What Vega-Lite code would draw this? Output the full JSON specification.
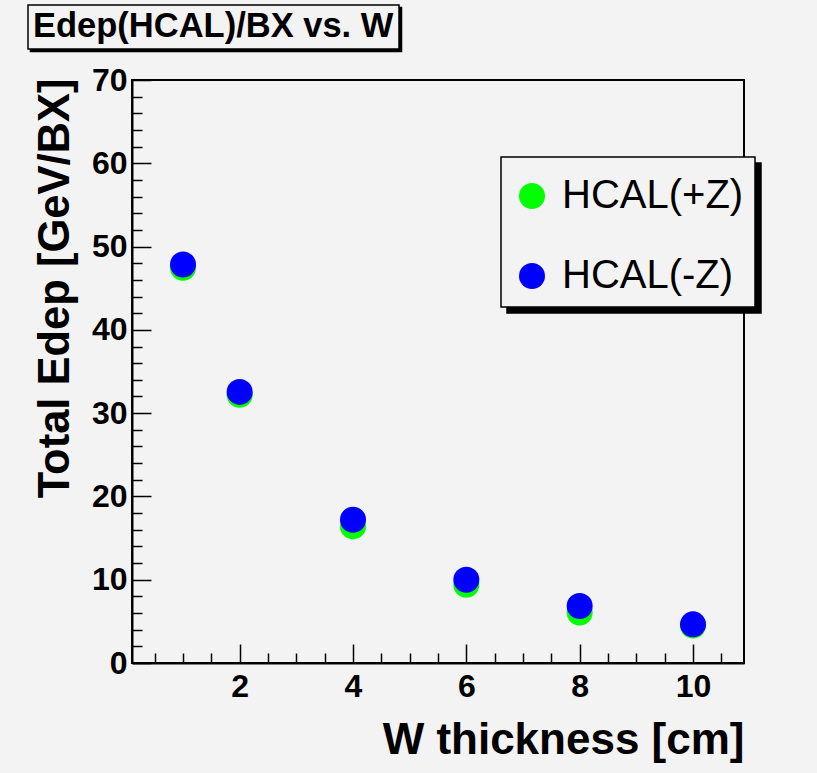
{
  "$schema": "https://vega.github.io/schema/vega-lite/v6.json",
  "autosize": "none",
  "width": 612,
  "height": 583,
  "padding": {"left": 132, "top": 80, "right": 73, "bottom": 110},
  "background": "#f3f3f3",
  "config": {
    "view": {"stroke": "black", "strokeWidth": 2, "fill": "#f3f3f3"},
    "font": "Liberation Sans",
    "legend": {"strokeWidth": 1.5}
  },
  "data": {
    "values": [
      {"w": 1, "series": "HCAL(+Z)", "edep": 47.45},
      {"w": 2, "series": "HCAL(+Z)", "edep": 32.2},
      {"w": 4, "series": "HCAL(+Z)", "edep": 16.4},
      {"w": 6, "series": "HCAL(+Z)", "edep": 9.4},
      {"w": 8, "series": "HCAL(+Z)", "edep": 6.05},
      {"w": 10, "series": "HCAL(+Z)", "edep": 4.5},
      {"w": 1, "series": "HCAL(-Z)", "edep": 47.85},
      {"w": 2, "series": "HCAL(-Z)", "edep": 32.55},
      {"w": 4, "series": "HCAL(-Z)", "edep": 17.2},
      {"w": 6, "series": "HCAL(-Z)", "edep": 10.0},
      {"w": 8, "series": "HCAL(-Z)", "edep": 6.84},
      {"w": 10, "series": "HCAL(-Z)", "edep": 4.64}
    ]
  },
  "layer": [
    {
      "mark": {"type": "point", "filled": true, "opacity": 1, "strokeWidth": 0},
      "encoding": {
        "x": {
          "field": "w", "type": "quantitative",
          "scale": {"domain": [0.1, 10.9], "nice": false, "zero": false},
          "axis": {
            "orient": "bottom", "values": [2, 4, 6, 8, 10], "format": "d",
            "tickSize": -19, "tickWidth": 1.5, "tickColor": "black",
            "domainColor": "black", "domainWidth": 2,
            "labelFont": "Liberation Sans", "labelFontWeight": "bold", "labelFontSize": 32, "labelColor": "black",
            "labelPadding": 27, "labelFlush": false, "labelOverlap": false, "grid": false,
            "title": "W thickness [cm]", "titleFont": "Liberation Sans", "titleFontSize": 44, "titleFontWeight": "bold",
            "titleColor": "black", "titleAnchor": "end", "titleAlign": "right", "titleBaseline": "alphabetic",
            "titleX": 612, "titleY": 90
          }
        },
        "y": {
          "field": "edep", "type": "quantitative",
          "scale": {"domain": [0, 70], "nice": false, "zero": false},
          "axis": {
            "orient": "left", "values": [0, 10, 20, 30, 40, 50, 60, 70], "format": "d",
            "tickSize": -19, "tickWidth": 1.5, "tickColor": "black",
            "domainColor": "black", "domainWidth": 2,
            "labelFont": "Liberation Sans", "labelFontWeight": "bold", "labelFontSize": 32, "labelColor": "black",
            "labelPadding": 24, "labelFlush": false, "labelOverlap": false, "grid": false,
            "title": "Total Edep [GeV/BX]", "titleFont": "Liberation Sans", "titleFontSize": 43.5, "titleFontWeight": "bold",
            "titleColor": "black", "titleAngle": 270, "titleAlign": "right", "titleBaseline": "alphabetic",
            "titleX": -64, "titleY": -2
          }
        },
        "color": {
          "field": "series", "type": "nominal",
          "scale": {"domain": ["HCAL(+Z)", "HCAL(-Z)"], "range": ["#00ff00", "#0000ff"]},
          "legend": {
            "title": "\u00a0", "titleFontSize": 6, "titlePadding": 2,
            "orient": "none", "legendX": 369, "legendY": 77, "zindex": 2,
            "fillColor": "#f3f3f3", "strokeColor": "black", "padding": 11,
            "symbolType": "circle", "symbolSize": 676, "symbolStrokeWidth": 0, "symbolOpacity": 1,
            "labelFont": "Liberation Sans", "labelFontSize": 40, "labelFontWeight": "normal", "labelColor": "black",
            "labelOffset": 10, "labelLimit": 400, "rowPadding": 40
          }
        },
        "shape": {
          "field": "series", "type": "nominal",
          "scale": {"domain": ["HCAL(+Z)", "HCAL(-Z)", "s"], "range": ["circle", "circle", "circle"]},
          "legend": {
            "title": "\u00a0", "titleFontSize": 6, "titlePadding": 2, "titleColor": "black",
            "orient": "none", "legendX": 375, "legendY": 83, "zindex": 1,
            "values": ["HCAL(+Z)", "HCAL(-Z)"],
            "fillColor": "black", "strokeColor": "black", "padding": 11,
            "symbolType": "circle", "symbolSize": 676, "symbolStrokeWidth": 0, "symbolFillColor": "black", "symbolOpacity": 1,
            "labelFont": "Liberation Sans", "labelFontSize": 40, "labelFontWeight": "normal", "labelColor": "black",
            "labelOffset": 10, "labelLimit": 400, "rowPadding": 40
          }
        },
        "opacity": {
          "field": "series", "type": "nominal",
          "scale": {"domain": ["HCAL(+Z)", "HCAL(-Z)", "o"], "range": [1, 1]},
          "legend": {
            "title": "Edep(HCAL)/BX vs. W", "orient": "none", "legendX": -104, "legendY": -75, "zindex": 4,
            "values": [],
            "fillColor": "#f3f3f3", "strokeColor": "black", "padding": 5,
            "titleFont": "Liberation Sans", "titleFontSize": 34.5, "titleFontWeight": "bold", "titleColor": "black",
            "titlePadding": 0, "titleLimit": 600
          }
        },
        "size": {
          "field": "series", "type": "nominal",
          "scale": {"domain": ["HCAL(+Z)", "HCAL(-Z)", "z"], "range": [676, 676]},
          "legend": {
            "title": "Edep(HCAL)/BX vs. W", "orient": "none", "legendX": -101.5, "legendY": -72.5, "zindex": 3,
            "values": [],
            "fillColor": "black", "strokeColor": "black", "padding": 5,
            "titleFont": "Liberation Sans", "titleFontSize": 34.5, "titleFontWeight": "bold", "titleColor": "black",
            "titlePadding": 0, "titleLimit": 600
          }
        }
      }
    },
    {
      "mark": {"type": "point", "opacity": 0},
      "encoding": {
        "x": {
          "field": "w", "type": "quantitative",
          "scale": {"domain": [0.1, 10.9], "nice": false, "zero": false},
          "axis": {
            "orient": "bottom",
            "values": [0.5, 1, 1.5, 2.5, 3, 3.5, 4.5, 5, 5.5, 6.5, 7, 7.5, 8.5, 9, 9.5, 10.5],
            "tickSize": -10, "tickWidth": 1.5, "tickColor": "black",
            "labels": false, "domain": false, "grid": false, "title": null
          }
        },
        "y": {
          "field": "edep", "type": "quantitative",
          "scale": {"domain": [0, 70], "nice": false, "zero": false},
          "axis": {
            "orient": "left",
            "values": [2, 4, 6, 8, 12, 14, 16, 18, 22, 24, 26, 28, 32, 34, 36, 38, 42, 44, 46, 48, 52, 54, 56, 58, 62, 64, 66, 68],
            "tickSize": -10, "tickWidth": 1.5, "tickColor": "black",
            "labels": false, "domain": false, "grid": false, "title": null
          }
        }
      }
    }
  ],
  "resolve": {"axis": {"x": "independent", "y": "independent"}}
}
